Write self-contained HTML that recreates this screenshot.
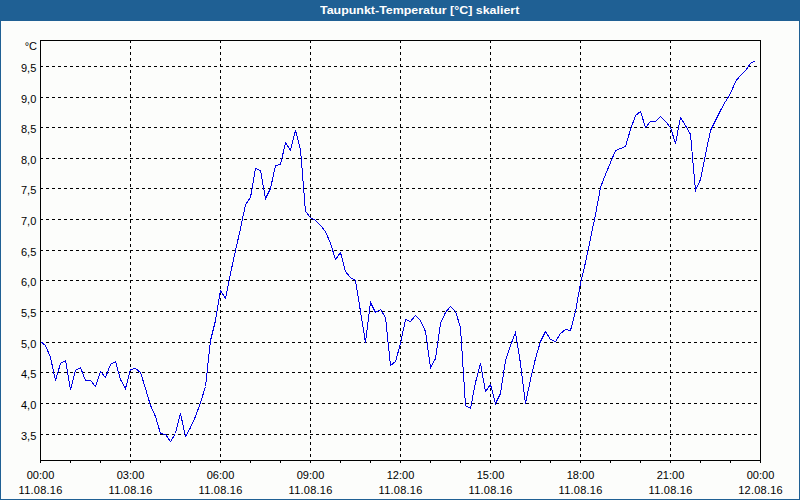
<!DOCTYPE html>
<html><head><meta charset="utf-8"><style>
html,body{margin:0;padding:0;}
body{width:800px;height:500px;overflow:hidden;background:#1f6094;position:relative;}
#panel{position:absolute;left:1px;top:21px;width:798px;height:478px;background:#fcfdfb;}
#title{position:absolute;left:0;top:0;width:800px;height:21px;color:#fff;font:bold 11px "Liberation Sans",sans-serif;}
#title span{position:absolute;left:320px;top:4px;white-space:nowrap;transform:scaleX(1.13);transform-origin:0 0;}
svg{position:absolute;left:0;top:0;}
text{font-family:"Liberation Sans",sans-serif;font-size:11px;fill:#000;}
</style></head><body>
<div id="panel"></div>
<div id="title"><span>Taupunkt-Temperatur [°C] skaliert</span></div>
<svg width="800" height="500" viewBox="0 0 800 500">
<path d="M40 66h3v1h-3zM46 66h3v1h-3zM52 66h3v1h-3zM58 66h3v1h-3zM64 66h3v1h-3zM70 66h3v1h-3zM76 66h3v1h-3zM82 66h3v1h-3zM88 66h3v1h-3zM94 66h3v1h-3zM100 66h3v1h-3zM106 66h3v1h-3zM112 66h3v1h-3zM118 66h3v1h-3zM124 66h3v1h-3zM130 66h3v1h-3zM136 66h3v1h-3zM142 66h3v1h-3zM148 66h3v1h-3zM154 66h3v1h-3zM160 66h3v1h-3zM166 66h3v1h-3zM172 66h3v1h-3zM178 66h3v1h-3zM184 66h3v1h-3zM190 66h3v1h-3zM196 66h3v1h-3zM202 66h3v1h-3zM208 66h3v1h-3zM214 66h3v1h-3zM220 66h3v1h-3zM226 66h3v1h-3zM232 66h3v1h-3zM238 66h3v1h-3zM244 66h3v1h-3zM250 66h3v1h-3zM256 66h3v1h-3zM262 66h3v1h-3zM268 66h3v1h-3zM274 66h3v1h-3zM280 66h3v1h-3zM286 66h3v1h-3zM292 66h3v1h-3zM298 66h3v1h-3zM304 66h3v1h-3zM310 66h3v1h-3zM316 66h3v1h-3zM322 66h3v1h-3zM328 66h3v1h-3zM334 66h3v1h-3zM340 66h3v1h-3zM346 66h3v1h-3zM352 66h3v1h-3zM358 66h3v1h-3zM364 66h3v1h-3zM370 66h3v1h-3zM376 66h3v1h-3zM382 66h3v1h-3zM388 66h3v1h-3zM394 66h3v1h-3zM400 66h3v1h-3zM406 66h3v1h-3zM412 66h3v1h-3zM418 66h3v1h-3zM424 66h3v1h-3zM430 66h3v1h-3zM436 66h3v1h-3zM442 66h3v1h-3zM448 66h3v1h-3zM454 66h3v1h-3zM460 66h3v1h-3zM466 66h3v1h-3zM472 66h3v1h-3zM478 66h3v1h-3zM484 66h3v1h-3zM490 66h3v1h-3zM496 66h3v1h-3zM502 66h3v1h-3zM508 66h3v1h-3zM514 66h3v1h-3zM520 66h3v1h-3zM526 66h3v1h-3zM532 66h3v1h-3zM538 66h3v1h-3zM544 66h3v1h-3zM550 66h3v1h-3zM556 66h3v1h-3zM562 66h3v1h-3zM568 66h3v1h-3zM574 66h3v1h-3zM580 66h3v1h-3zM586 66h3v1h-3zM592 66h3v1h-3zM598 66h3v1h-3zM604 66h3v1h-3zM610 66h3v1h-3zM616 66h3v1h-3zM622 66h3v1h-3zM628 66h3v1h-3zM634 66h3v1h-3zM640 66h3v1h-3zM646 66h3v1h-3zM652 66h3v1h-3zM658 66h3v1h-3zM664 66h3v1h-3zM670 66h3v1h-3zM676 66h3v1h-3zM682 66h3v1h-3zM688 66h3v1h-3zM694 66h3v1h-3zM700 66h3v1h-3zM706 66h3v1h-3zM712 66h3v1h-3zM718 66h3v1h-3zM724 66h3v1h-3zM730 66h3v1h-3zM736 66h3v1h-3zM742 66h3v1h-3zM748 66h3v1h-3zM754 66h3v1h-3zM40 97h3v1h-3zM46 97h3v1h-3zM52 97h3v1h-3zM58 97h3v1h-3zM64 97h3v1h-3zM70 97h3v1h-3zM76 97h3v1h-3zM82 97h3v1h-3zM88 97h3v1h-3zM94 97h3v1h-3zM100 97h3v1h-3zM106 97h3v1h-3zM112 97h3v1h-3zM118 97h3v1h-3zM124 97h3v1h-3zM130 97h3v1h-3zM136 97h3v1h-3zM142 97h3v1h-3zM148 97h3v1h-3zM154 97h3v1h-3zM160 97h3v1h-3zM166 97h3v1h-3zM172 97h3v1h-3zM178 97h3v1h-3zM184 97h3v1h-3zM190 97h3v1h-3zM196 97h3v1h-3zM202 97h3v1h-3zM208 97h3v1h-3zM214 97h3v1h-3zM220 97h3v1h-3zM226 97h3v1h-3zM232 97h3v1h-3zM238 97h3v1h-3zM244 97h3v1h-3zM250 97h3v1h-3zM256 97h3v1h-3zM262 97h3v1h-3zM268 97h3v1h-3zM274 97h3v1h-3zM280 97h3v1h-3zM286 97h3v1h-3zM292 97h3v1h-3zM298 97h3v1h-3zM304 97h3v1h-3zM310 97h3v1h-3zM316 97h3v1h-3zM322 97h3v1h-3zM328 97h3v1h-3zM334 97h3v1h-3zM340 97h3v1h-3zM346 97h3v1h-3zM352 97h3v1h-3zM358 97h3v1h-3zM364 97h3v1h-3zM370 97h3v1h-3zM376 97h3v1h-3zM382 97h3v1h-3zM388 97h3v1h-3zM394 97h3v1h-3zM400 97h3v1h-3zM406 97h3v1h-3zM412 97h3v1h-3zM418 97h3v1h-3zM424 97h3v1h-3zM430 97h3v1h-3zM436 97h3v1h-3zM442 97h3v1h-3zM448 97h3v1h-3zM454 97h3v1h-3zM460 97h3v1h-3zM466 97h3v1h-3zM472 97h3v1h-3zM478 97h3v1h-3zM484 97h3v1h-3zM490 97h3v1h-3zM496 97h3v1h-3zM502 97h3v1h-3zM508 97h3v1h-3zM514 97h3v1h-3zM520 97h3v1h-3zM526 97h3v1h-3zM532 97h3v1h-3zM538 97h3v1h-3zM544 97h3v1h-3zM550 97h3v1h-3zM556 97h3v1h-3zM562 97h3v1h-3zM568 97h3v1h-3zM574 97h3v1h-3zM580 97h3v1h-3zM586 97h3v1h-3zM592 97h3v1h-3zM598 97h3v1h-3zM604 97h3v1h-3zM610 97h3v1h-3zM616 97h3v1h-3zM622 97h3v1h-3zM628 97h3v1h-3zM634 97h3v1h-3zM640 97h3v1h-3zM646 97h3v1h-3zM652 97h3v1h-3zM658 97h3v1h-3zM664 97h3v1h-3zM670 97h3v1h-3zM676 97h3v1h-3zM682 97h3v1h-3zM688 97h3v1h-3zM694 97h3v1h-3zM700 97h3v1h-3zM706 97h3v1h-3zM712 97h3v1h-3zM718 97h3v1h-3zM724 97h3v1h-3zM730 97h3v1h-3zM736 97h3v1h-3zM742 97h3v1h-3zM748 97h3v1h-3zM754 97h3v1h-3zM40 127h3v1h-3zM46 127h3v1h-3zM52 127h3v1h-3zM58 127h3v1h-3zM64 127h3v1h-3zM70 127h3v1h-3zM76 127h3v1h-3zM82 127h3v1h-3zM88 127h3v1h-3zM94 127h3v1h-3zM100 127h3v1h-3zM106 127h3v1h-3zM112 127h3v1h-3zM118 127h3v1h-3zM124 127h3v1h-3zM130 127h3v1h-3zM136 127h3v1h-3zM142 127h3v1h-3zM148 127h3v1h-3zM154 127h3v1h-3zM160 127h3v1h-3zM166 127h3v1h-3zM172 127h3v1h-3zM178 127h3v1h-3zM184 127h3v1h-3zM190 127h3v1h-3zM196 127h3v1h-3zM202 127h3v1h-3zM208 127h3v1h-3zM214 127h3v1h-3zM220 127h3v1h-3zM226 127h3v1h-3zM232 127h3v1h-3zM238 127h3v1h-3zM244 127h3v1h-3zM250 127h3v1h-3zM256 127h3v1h-3zM262 127h3v1h-3zM268 127h3v1h-3zM274 127h3v1h-3zM280 127h3v1h-3zM286 127h3v1h-3zM292 127h3v1h-3zM298 127h3v1h-3zM304 127h3v1h-3zM310 127h3v1h-3zM316 127h3v1h-3zM322 127h3v1h-3zM328 127h3v1h-3zM334 127h3v1h-3zM340 127h3v1h-3zM346 127h3v1h-3zM352 127h3v1h-3zM358 127h3v1h-3zM364 127h3v1h-3zM370 127h3v1h-3zM376 127h3v1h-3zM382 127h3v1h-3zM388 127h3v1h-3zM394 127h3v1h-3zM400 127h3v1h-3zM406 127h3v1h-3zM412 127h3v1h-3zM418 127h3v1h-3zM424 127h3v1h-3zM430 127h3v1h-3zM436 127h3v1h-3zM442 127h3v1h-3zM448 127h3v1h-3zM454 127h3v1h-3zM460 127h3v1h-3zM466 127h3v1h-3zM472 127h3v1h-3zM478 127h3v1h-3zM484 127h3v1h-3zM490 127h3v1h-3zM496 127h3v1h-3zM502 127h3v1h-3zM508 127h3v1h-3zM514 127h3v1h-3zM520 127h3v1h-3zM526 127h3v1h-3zM532 127h3v1h-3zM538 127h3v1h-3zM544 127h3v1h-3zM550 127h3v1h-3zM556 127h3v1h-3zM562 127h3v1h-3zM568 127h3v1h-3zM574 127h3v1h-3zM580 127h3v1h-3zM586 127h3v1h-3zM592 127h3v1h-3zM598 127h3v1h-3zM604 127h3v1h-3zM610 127h3v1h-3zM616 127h3v1h-3zM622 127h3v1h-3zM628 127h3v1h-3zM634 127h3v1h-3zM640 127h3v1h-3zM646 127h3v1h-3zM652 127h3v1h-3zM658 127h3v1h-3zM664 127h3v1h-3zM670 127h3v1h-3zM676 127h3v1h-3zM682 127h3v1h-3zM688 127h3v1h-3zM694 127h3v1h-3zM700 127h3v1h-3zM706 127h3v1h-3zM712 127h3v1h-3zM718 127h3v1h-3zM724 127h3v1h-3zM730 127h3v1h-3zM736 127h3v1h-3zM742 127h3v1h-3zM748 127h3v1h-3zM754 127h3v1h-3zM40 158h3v1h-3zM46 158h3v1h-3zM52 158h3v1h-3zM58 158h3v1h-3zM64 158h3v1h-3zM70 158h3v1h-3zM76 158h3v1h-3zM82 158h3v1h-3zM88 158h3v1h-3zM94 158h3v1h-3zM100 158h3v1h-3zM106 158h3v1h-3zM112 158h3v1h-3zM118 158h3v1h-3zM124 158h3v1h-3zM130 158h3v1h-3zM136 158h3v1h-3zM142 158h3v1h-3zM148 158h3v1h-3zM154 158h3v1h-3zM160 158h3v1h-3zM166 158h3v1h-3zM172 158h3v1h-3zM178 158h3v1h-3zM184 158h3v1h-3zM190 158h3v1h-3zM196 158h3v1h-3zM202 158h3v1h-3zM208 158h3v1h-3zM214 158h3v1h-3zM220 158h3v1h-3zM226 158h3v1h-3zM232 158h3v1h-3zM238 158h3v1h-3zM244 158h3v1h-3zM250 158h3v1h-3zM256 158h3v1h-3zM262 158h3v1h-3zM268 158h3v1h-3zM274 158h3v1h-3zM280 158h3v1h-3zM286 158h3v1h-3zM292 158h3v1h-3zM298 158h3v1h-3zM304 158h3v1h-3zM310 158h3v1h-3zM316 158h3v1h-3zM322 158h3v1h-3zM328 158h3v1h-3zM334 158h3v1h-3zM340 158h3v1h-3zM346 158h3v1h-3zM352 158h3v1h-3zM358 158h3v1h-3zM364 158h3v1h-3zM370 158h3v1h-3zM376 158h3v1h-3zM382 158h3v1h-3zM388 158h3v1h-3zM394 158h3v1h-3zM400 158h3v1h-3zM406 158h3v1h-3zM412 158h3v1h-3zM418 158h3v1h-3zM424 158h3v1h-3zM430 158h3v1h-3zM436 158h3v1h-3zM442 158h3v1h-3zM448 158h3v1h-3zM454 158h3v1h-3zM460 158h3v1h-3zM466 158h3v1h-3zM472 158h3v1h-3zM478 158h3v1h-3zM484 158h3v1h-3zM490 158h3v1h-3zM496 158h3v1h-3zM502 158h3v1h-3zM508 158h3v1h-3zM514 158h3v1h-3zM520 158h3v1h-3zM526 158h3v1h-3zM532 158h3v1h-3zM538 158h3v1h-3zM544 158h3v1h-3zM550 158h3v1h-3zM556 158h3v1h-3zM562 158h3v1h-3zM568 158h3v1h-3zM574 158h3v1h-3zM580 158h3v1h-3zM586 158h3v1h-3zM592 158h3v1h-3zM598 158h3v1h-3zM604 158h3v1h-3zM610 158h3v1h-3zM616 158h3v1h-3zM622 158h3v1h-3zM628 158h3v1h-3zM634 158h3v1h-3zM640 158h3v1h-3zM646 158h3v1h-3zM652 158h3v1h-3zM658 158h3v1h-3zM664 158h3v1h-3zM670 158h3v1h-3zM676 158h3v1h-3zM682 158h3v1h-3zM688 158h3v1h-3zM694 158h3v1h-3zM700 158h3v1h-3zM706 158h3v1h-3zM712 158h3v1h-3zM718 158h3v1h-3zM724 158h3v1h-3zM730 158h3v1h-3zM736 158h3v1h-3zM742 158h3v1h-3zM748 158h3v1h-3zM754 158h3v1h-3zM40 188h3v1h-3zM46 188h3v1h-3zM52 188h3v1h-3zM58 188h3v1h-3zM64 188h3v1h-3zM70 188h3v1h-3zM76 188h3v1h-3zM82 188h3v1h-3zM88 188h3v1h-3zM94 188h3v1h-3zM100 188h3v1h-3zM106 188h3v1h-3zM112 188h3v1h-3zM118 188h3v1h-3zM124 188h3v1h-3zM130 188h3v1h-3zM136 188h3v1h-3zM142 188h3v1h-3zM148 188h3v1h-3zM154 188h3v1h-3zM160 188h3v1h-3zM166 188h3v1h-3zM172 188h3v1h-3zM178 188h3v1h-3zM184 188h3v1h-3zM190 188h3v1h-3zM196 188h3v1h-3zM202 188h3v1h-3zM208 188h3v1h-3zM214 188h3v1h-3zM220 188h3v1h-3zM226 188h3v1h-3zM232 188h3v1h-3zM238 188h3v1h-3zM244 188h3v1h-3zM250 188h3v1h-3zM256 188h3v1h-3zM262 188h3v1h-3zM268 188h3v1h-3zM274 188h3v1h-3zM280 188h3v1h-3zM286 188h3v1h-3zM292 188h3v1h-3zM298 188h3v1h-3zM304 188h3v1h-3zM310 188h3v1h-3zM316 188h3v1h-3zM322 188h3v1h-3zM328 188h3v1h-3zM334 188h3v1h-3zM340 188h3v1h-3zM346 188h3v1h-3zM352 188h3v1h-3zM358 188h3v1h-3zM364 188h3v1h-3zM370 188h3v1h-3zM376 188h3v1h-3zM382 188h3v1h-3zM388 188h3v1h-3zM394 188h3v1h-3zM400 188h3v1h-3zM406 188h3v1h-3zM412 188h3v1h-3zM418 188h3v1h-3zM424 188h3v1h-3zM430 188h3v1h-3zM436 188h3v1h-3zM442 188h3v1h-3zM448 188h3v1h-3zM454 188h3v1h-3zM460 188h3v1h-3zM466 188h3v1h-3zM472 188h3v1h-3zM478 188h3v1h-3zM484 188h3v1h-3zM490 188h3v1h-3zM496 188h3v1h-3zM502 188h3v1h-3zM508 188h3v1h-3zM514 188h3v1h-3zM520 188h3v1h-3zM526 188h3v1h-3zM532 188h3v1h-3zM538 188h3v1h-3zM544 188h3v1h-3zM550 188h3v1h-3zM556 188h3v1h-3zM562 188h3v1h-3zM568 188h3v1h-3zM574 188h3v1h-3zM580 188h3v1h-3zM586 188h3v1h-3zM592 188h3v1h-3zM598 188h3v1h-3zM604 188h3v1h-3zM610 188h3v1h-3zM616 188h3v1h-3zM622 188h3v1h-3zM628 188h3v1h-3zM634 188h3v1h-3zM640 188h3v1h-3zM646 188h3v1h-3zM652 188h3v1h-3zM658 188h3v1h-3zM664 188h3v1h-3zM670 188h3v1h-3zM676 188h3v1h-3zM682 188h3v1h-3zM688 188h3v1h-3zM694 188h3v1h-3zM700 188h3v1h-3zM706 188h3v1h-3zM712 188h3v1h-3zM718 188h3v1h-3zM724 188h3v1h-3zM730 188h3v1h-3zM736 188h3v1h-3zM742 188h3v1h-3zM748 188h3v1h-3zM754 188h3v1h-3zM40 219h3v1h-3zM46 219h3v1h-3zM52 219h3v1h-3zM58 219h3v1h-3zM64 219h3v1h-3zM70 219h3v1h-3zM76 219h3v1h-3zM82 219h3v1h-3zM88 219h3v1h-3zM94 219h3v1h-3zM100 219h3v1h-3zM106 219h3v1h-3zM112 219h3v1h-3zM118 219h3v1h-3zM124 219h3v1h-3zM130 219h3v1h-3zM136 219h3v1h-3zM142 219h3v1h-3zM148 219h3v1h-3zM154 219h3v1h-3zM160 219h3v1h-3zM166 219h3v1h-3zM172 219h3v1h-3zM178 219h3v1h-3zM184 219h3v1h-3zM190 219h3v1h-3zM196 219h3v1h-3zM202 219h3v1h-3zM208 219h3v1h-3zM214 219h3v1h-3zM220 219h3v1h-3zM226 219h3v1h-3zM232 219h3v1h-3zM238 219h3v1h-3zM244 219h3v1h-3zM250 219h3v1h-3zM256 219h3v1h-3zM262 219h3v1h-3zM268 219h3v1h-3zM274 219h3v1h-3zM280 219h3v1h-3zM286 219h3v1h-3zM292 219h3v1h-3zM298 219h3v1h-3zM304 219h3v1h-3zM310 219h3v1h-3zM316 219h3v1h-3zM322 219h3v1h-3zM328 219h3v1h-3zM334 219h3v1h-3zM340 219h3v1h-3zM346 219h3v1h-3zM352 219h3v1h-3zM358 219h3v1h-3zM364 219h3v1h-3zM370 219h3v1h-3zM376 219h3v1h-3zM382 219h3v1h-3zM388 219h3v1h-3zM394 219h3v1h-3zM400 219h3v1h-3zM406 219h3v1h-3zM412 219h3v1h-3zM418 219h3v1h-3zM424 219h3v1h-3zM430 219h3v1h-3zM436 219h3v1h-3zM442 219h3v1h-3zM448 219h3v1h-3zM454 219h3v1h-3zM460 219h3v1h-3zM466 219h3v1h-3zM472 219h3v1h-3zM478 219h3v1h-3zM484 219h3v1h-3zM490 219h3v1h-3zM496 219h3v1h-3zM502 219h3v1h-3zM508 219h3v1h-3zM514 219h3v1h-3zM520 219h3v1h-3zM526 219h3v1h-3zM532 219h3v1h-3zM538 219h3v1h-3zM544 219h3v1h-3zM550 219h3v1h-3zM556 219h3v1h-3zM562 219h3v1h-3zM568 219h3v1h-3zM574 219h3v1h-3zM580 219h3v1h-3zM586 219h3v1h-3zM592 219h3v1h-3zM598 219h3v1h-3zM604 219h3v1h-3zM610 219h3v1h-3zM616 219h3v1h-3zM622 219h3v1h-3zM628 219h3v1h-3zM634 219h3v1h-3zM640 219h3v1h-3zM646 219h3v1h-3zM652 219h3v1h-3zM658 219h3v1h-3zM664 219h3v1h-3zM670 219h3v1h-3zM676 219h3v1h-3zM682 219h3v1h-3zM688 219h3v1h-3zM694 219h3v1h-3zM700 219h3v1h-3zM706 219h3v1h-3zM712 219h3v1h-3zM718 219h3v1h-3zM724 219h3v1h-3zM730 219h3v1h-3zM736 219h3v1h-3zM742 219h3v1h-3zM748 219h3v1h-3zM754 219h3v1h-3zM40 250h3v1h-3zM46 250h3v1h-3zM52 250h3v1h-3zM58 250h3v1h-3zM64 250h3v1h-3zM70 250h3v1h-3zM76 250h3v1h-3zM82 250h3v1h-3zM88 250h3v1h-3zM94 250h3v1h-3zM100 250h3v1h-3zM106 250h3v1h-3zM112 250h3v1h-3zM118 250h3v1h-3zM124 250h3v1h-3zM130 250h3v1h-3zM136 250h3v1h-3zM142 250h3v1h-3zM148 250h3v1h-3zM154 250h3v1h-3zM160 250h3v1h-3zM166 250h3v1h-3zM172 250h3v1h-3zM178 250h3v1h-3zM184 250h3v1h-3zM190 250h3v1h-3zM196 250h3v1h-3zM202 250h3v1h-3zM208 250h3v1h-3zM214 250h3v1h-3zM220 250h3v1h-3zM226 250h3v1h-3zM232 250h3v1h-3zM238 250h3v1h-3zM244 250h3v1h-3zM250 250h3v1h-3zM256 250h3v1h-3zM262 250h3v1h-3zM268 250h3v1h-3zM274 250h3v1h-3zM280 250h3v1h-3zM286 250h3v1h-3zM292 250h3v1h-3zM298 250h3v1h-3zM304 250h3v1h-3zM310 250h3v1h-3zM316 250h3v1h-3zM322 250h3v1h-3zM328 250h3v1h-3zM334 250h3v1h-3zM340 250h3v1h-3zM346 250h3v1h-3zM352 250h3v1h-3zM358 250h3v1h-3zM364 250h3v1h-3zM370 250h3v1h-3zM376 250h3v1h-3zM382 250h3v1h-3zM388 250h3v1h-3zM394 250h3v1h-3zM400 250h3v1h-3zM406 250h3v1h-3zM412 250h3v1h-3zM418 250h3v1h-3zM424 250h3v1h-3zM430 250h3v1h-3zM436 250h3v1h-3zM442 250h3v1h-3zM448 250h3v1h-3zM454 250h3v1h-3zM460 250h3v1h-3zM466 250h3v1h-3zM472 250h3v1h-3zM478 250h3v1h-3zM484 250h3v1h-3zM490 250h3v1h-3zM496 250h3v1h-3zM502 250h3v1h-3zM508 250h3v1h-3zM514 250h3v1h-3zM520 250h3v1h-3zM526 250h3v1h-3zM532 250h3v1h-3zM538 250h3v1h-3zM544 250h3v1h-3zM550 250h3v1h-3zM556 250h3v1h-3zM562 250h3v1h-3zM568 250h3v1h-3zM574 250h3v1h-3zM580 250h3v1h-3zM586 250h3v1h-3zM592 250h3v1h-3zM598 250h3v1h-3zM604 250h3v1h-3zM610 250h3v1h-3zM616 250h3v1h-3zM622 250h3v1h-3zM628 250h3v1h-3zM634 250h3v1h-3zM640 250h3v1h-3zM646 250h3v1h-3zM652 250h3v1h-3zM658 250h3v1h-3zM664 250h3v1h-3zM670 250h3v1h-3zM676 250h3v1h-3zM682 250h3v1h-3zM688 250h3v1h-3zM694 250h3v1h-3zM700 250h3v1h-3zM706 250h3v1h-3zM712 250h3v1h-3zM718 250h3v1h-3zM724 250h3v1h-3zM730 250h3v1h-3zM736 250h3v1h-3zM742 250h3v1h-3zM748 250h3v1h-3zM754 250h3v1h-3zM40 280h3v1h-3zM46 280h3v1h-3zM52 280h3v1h-3zM58 280h3v1h-3zM64 280h3v1h-3zM70 280h3v1h-3zM76 280h3v1h-3zM82 280h3v1h-3zM88 280h3v1h-3zM94 280h3v1h-3zM100 280h3v1h-3zM106 280h3v1h-3zM112 280h3v1h-3zM118 280h3v1h-3zM124 280h3v1h-3zM130 280h3v1h-3zM136 280h3v1h-3zM142 280h3v1h-3zM148 280h3v1h-3zM154 280h3v1h-3zM160 280h3v1h-3zM166 280h3v1h-3zM172 280h3v1h-3zM178 280h3v1h-3zM184 280h3v1h-3zM190 280h3v1h-3zM196 280h3v1h-3zM202 280h3v1h-3zM208 280h3v1h-3zM214 280h3v1h-3zM220 280h3v1h-3zM226 280h3v1h-3zM232 280h3v1h-3zM238 280h3v1h-3zM244 280h3v1h-3zM250 280h3v1h-3zM256 280h3v1h-3zM262 280h3v1h-3zM268 280h3v1h-3zM274 280h3v1h-3zM280 280h3v1h-3zM286 280h3v1h-3zM292 280h3v1h-3zM298 280h3v1h-3zM304 280h3v1h-3zM310 280h3v1h-3zM316 280h3v1h-3zM322 280h3v1h-3zM328 280h3v1h-3zM334 280h3v1h-3zM340 280h3v1h-3zM346 280h3v1h-3zM352 280h3v1h-3zM358 280h3v1h-3zM364 280h3v1h-3zM370 280h3v1h-3zM376 280h3v1h-3zM382 280h3v1h-3zM388 280h3v1h-3zM394 280h3v1h-3zM400 280h3v1h-3zM406 280h3v1h-3zM412 280h3v1h-3zM418 280h3v1h-3zM424 280h3v1h-3zM430 280h3v1h-3zM436 280h3v1h-3zM442 280h3v1h-3zM448 280h3v1h-3zM454 280h3v1h-3zM460 280h3v1h-3zM466 280h3v1h-3zM472 280h3v1h-3zM478 280h3v1h-3zM484 280h3v1h-3zM490 280h3v1h-3zM496 280h3v1h-3zM502 280h3v1h-3zM508 280h3v1h-3zM514 280h3v1h-3zM520 280h3v1h-3zM526 280h3v1h-3zM532 280h3v1h-3zM538 280h3v1h-3zM544 280h3v1h-3zM550 280h3v1h-3zM556 280h3v1h-3zM562 280h3v1h-3zM568 280h3v1h-3zM574 280h3v1h-3zM580 280h3v1h-3zM586 280h3v1h-3zM592 280h3v1h-3zM598 280h3v1h-3zM604 280h3v1h-3zM610 280h3v1h-3zM616 280h3v1h-3zM622 280h3v1h-3zM628 280h3v1h-3zM634 280h3v1h-3zM640 280h3v1h-3zM646 280h3v1h-3zM652 280h3v1h-3zM658 280h3v1h-3zM664 280h3v1h-3zM670 280h3v1h-3zM676 280h3v1h-3zM682 280h3v1h-3zM688 280h3v1h-3zM694 280h3v1h-3zM700 280h3v1h-3zM706 280h3v1h-3zM712 280h3v1h-3zM718 280h3v1h-3zM724 280h3v1h-3zM730 280h3v1h-3zM736 280h3v1h-3zM742 280h3v1h-3zM748 280h3v1h-3zM754 280h3v1h-3zM40 311h3v1h-3zM46 311h3v1h-3zM52 311h3v1h-3zM58 311h3v1h-3zM64 311h3v1h-3zM70 311h3v1h-3zM76 311h3v1h-3zM82 311h3v1h-3zM88 311h3v1h-3zM94 311h3v1h-3zM100 311h3v1h-3zM106 311h3v1h-3zM112 311h3v1h-3zM118 311h3v1h-3zM124 311h3v1h-3zM130 311h3v1h-3zM136 311h3v1h-3zM142 311h3v1h-3zM148 311h3v1h-3zM154 311h3v1h-3zM160 311h3v1h-3zM166 311h3v1h-3zM172 311h3v1h-3zM178 311h3v1h-3zM184 311h3v1h-3zM190 311h3v1h-3zM196 311h3v1h-3zM202 311h3v1h-3zM208 311h3v1h-3zM214 311h3v1h-3zM220 311h3v1h-3zM226 311h3v1h-3zM232 311h3v1h-3zM238 311h3v1h-3zM244 311h3v1h-3zM250 311h3v1h-3zM256 311h3v1h-3zM262 311h3v1h-3zM268 311h3v1h-3zM274 311h3v1h-3zM280 311h3v1h-3zM286 311h3v1h-3zM292 311h3v1h-3zM298 311h3v1h-3zM304 311h3v1h-3zM310 311h3v1h-3zM316 311h3v1h-3zM322 311h3v1h-3zM328 311h3v1h-3zM334 311h3v1h-3zM340 311h3v1h-3zM346 311h3v1h-3zM352 311h3v1h-3zM358 311h3v1h-3zM364 311h3v1h-3zM370 311h3v1h-3zM376 311h3v1h-3zM382 311h3v1h-3zM388 311h3v1h-3zM394 311h3v1h-3zM400 311h3v1h-3zM406 311h3v1h-3zM412 311h3v1h-3zM418 311h3v1h-3zM424 311h3v1h-3zM430 311h3v1h-3zM436 311h3v1h-3zM442 311h3v1h-3zM448 311h3v1h-3zM454 311h3v1h-3zM460 311h3v1h-3zM466 311h3v1h-3zM472 311h3v1h-3zM478 311h3v1h-3zM484 311h3v1h-3zM490 311h3v1h-3zM496 311h3v1h-3zM502 311h3v1h-3zM508 311h3v1h-3zM514 311h3v1h-3zM520 311h3v1h-3zM526 311h3v1h-3zM532 311h3v1h-3zM538 311h3v1h-3zM544 311h3v1h-3zM550 311h3v1h-3zM556 311h3v1h-3zM562 311h3v1h-3zM568 311h3v1h-3zM574 311h3v1h-3zM580 311h3v1h-3zM586 311h3v1h-3zM592 311h3v1h-3zM598 311h3v1h-3zM604 311h3v1h-3zM610 311h3v1h-3zM616 311h3v1h-3zM622 311h3v1h-3zM628 311h3v1h-3zM634 311h3v1h-3zM640 311h3v1h-3zM646 311h3v1h-3zM652 311h3v1h-3zM658 311h3v1h-3zM664 311h3v1h-3zM670 311h3v1h-3zM676 311h3v1h-3zM682 311h3v1h-3zM688 311h3v1h-3zM694 311h3v1h-3zM700 311h3v1h-3zM706 311h3v1h-3zM712 311h3v1h-3zM718 311h3v1h-3zM724 311h3v1h-3zM730 311h3v1h-3zM736 311h3v1h-3zM742 311h3v1h-3zM748 311h3v1h-3zM754 311h3v1h-3zM40 342h3v1h-3zM46 342h3v1h-3zM52 342h3v1h-3zM58 342h3v1h-3zM64 342h3v1h-3zM70 342h3v1h-3zM76 342h3v1h-3zM82 342h3v1h-3zM88 342h3v1h-3zM94 342h3v1h-3zM100 342h3v1h-3zM106 342h3v1h-3zM112 342h3v1h-3zM118 342h3v1h-3zM124 342h3v1h-3zM130 342h3v1h-3zM136 342h3v1h-3zM142 342h3v1h-3zM148 342h3v1h-3zM154 342h3v1h-3zM160 342h3v1h-3zM166 342h3v1h-3zM172 342h3v1h-3zM178 342h3v1h-3zM184 342h3v1h-3zM190 342h3v1h-3zM196 342h3v1h-3zM202 342h3v1h-3zM208 342h3v1h-3zM214 342h3v1h-3zM220 342h3v1h-3zM226 342h3v1h-3zM232 342h3v1h-3zM238 342h3v1h-3zM244 342h3v1h-3zM250 342h3v1h-3zM256 342h3v1h-3zM262 342h3v1h-3zM268 342h3v1h-3zM274 342h3v1h-3zM280 342h3v1h-3zM286 342h3v1h-3zM292 342h3v1h-3zM298 342h3v1h-3zM304 342h3v1h-3zM310 342h3v1h-3zM316 342h3v1h-3zM322 342h3v1h-3zM328 342h3v1h-3zM334 342h3v1h-3zM340 342h3v1h-3zM346 342h3v1h-3zM352 342h3v1h-3zM358 342h3v1h-3zM364 342h3v1h-3zM370 342h3v1h-3zM376 342h3v1h-3zM382 342h3v1h-3zM388 342h3v1h-3zM394 342h3v1h-3zM400 342h3v1h-3zM406 342h3v1h-3zM412 342h3v1h-3zM418 342h3v1h-3zM424 342h3v1h-3zM430 342h3v1h-3zM436 342h3v1h-3zM442 342h3v1h-3zM448 342h3v1h-3zM454 342h3v1h-3zM460 342h3v1h-3zM466 342h3v1h-3zM472 342h3v1h-3zM478 342h3v1h-3zM484 342h3v1h-3zM490 342h3v1h-3zM496 342h3v1h-3zM502 342h3v1h-3zM508 342h3v1h-3zM514 342h3v1h-3zM520 342h3v1h-3zM526 342h3v1h-3zM532 342h3v1h-3zM538 342h3v1h-3zM544 342h3v1h-3zM550 342h3v1h-3zM556 342h3v1h-3zM562 342h3v1h-3zM568 342h3v1h-3zM574 342h3v1h-3zM580 342h3v1h-3zM586 342h3v1h-3zM592 342h3v1h-3zM598 342h3v1h-3zM604 342h3v1h-3zM610 342h3v1h-3zM616 342h3v1h-3zM622 342h3v1h-3zM628 342h3v1h-3zM634 342h3v1h-3zM640 342h3v1h-3zM646 342h3v1h-3zM652 342h3v1h-3zM658 342h3v1h-3zM664 342h3v1h-3zM670 342h3v1h-3zM676 342h3v1h-3zM682 342h3v1h-3zM688 342h3v1h-3zM694 342h3v1h-3zM700 342h3v1h-3zM706 342h3v1h-3zM712 342h3v1h-3zM718 342h3v1h-3zM724 342h3v1h-3zM730 342h3v1h-3zM736 342h3v1h-3zM742 342h3v1h-3zM748 342h3v1h-3zM754 342h3v1h-3zM40 372h3v1h-3zM46 372h3v1h-3zM52 372h3v1h-3zM58 372h3v1h-3zM64 372h3v1h-3zM70 372h3v1h-3zM76 372h3v1h-3zM82 372h3v1h-3zM88 372h3v1h-3zM94 372h3v1h-3zM100 372h3v1h-3zM106 372h3v1h-3zM112 372h3v1h-3zM118 372h3v1h-3zM124 372h3v1h-3zM130 372h3v1h-3zM136 372h3v1h-3zM142 372h3v1h-3zM148 372h3v1h-3zM154 372h3v1h-3zM160 372h3v1h-3zM166 372h3v1h-3zM172 372h3v1h-3zM178 372h3v1h-3zM184 372h3v1h-3zM190 372h3v1h-3zM196 372h3v1h-3zM202 372h3v1h-3zM208 372h3v1h-3zM214 372h3v1h-3zM220 372h3v1h-3zM226 372h3v1h-3zM232 372h3v1h-3zM238 372h3v1h-3zM244 372h3v1h-3zM250 372h3v1h-3zM256 372h3v1h-3zM262 372h3v1h-3zM268 372h3v1h-3zM274 372h3v1h-3zM280 372h3v1h-3zM286 372h3v1h-3zM292 372h3v1h-3zM298 372h3v1h-3zM304 372h3v1h-3zM310 372h3v1h-3zM316 372h3v1h-3zM322 372h3v1h-3zM328 372h3v1h-3zM334 372h3v1h-3zM340 372h3v1h-3zM346 372h3v1h-3zM352 372h3v1h-3zM358 372h3v1h-3zM364 372h3v1h-3zM370 372h3v1h-3zM376 372h3v1h-3zM382 372h3v1h-3zM388 372h3v1h-3zM394 372h3v1h-3zM400 372h3v1h-3zM406 372h3v1h-3zM412 372h3v1h-3zM418 372h3v1h-3zM424 372h3v1h-3zM430 372h3v1h-3zM436 372h3v1h-3zM442 372h3v1h-3zM448 372h3v1h-3zM454 372h3v1h-3zM460 372h3v1h-3zM466 372h3v1h-3zM472 372h3v1h-3zM478 372h3v1h-3zM484 372h3v1h-3zM490 372h3v1h-3zM496 372h3v1h-3zM502 372h3v1h-3zM508 372h3v1h-3zM514 372h3v1h-3zM520 372h3v1h-3zM526 372h3v1h-3zM532 372h3v1h-3zM538 372h3v1h-3zM544 372h3v1h-3zM550 372h3v1h-3zM556 372h3v1h-3zM562 372h3v1h-3zM568 372h3v1h-3zM574 372h3v1h-3zM580 372h3v1h-3zM586 372h3v1h-3zM592 372h3v1h-3zM598 372h3v1h-3zM604 372h3v1h-3zM610 372h3v1h-3zM616 372h3v1h-3zM622 372h3v1h-3zM628 372h3v1h-3zM634 372h3v1h-3zM640 372h3v1h-3zM646 372h3v1h-3zM652 372h3v1h-3zM658 372h3v1h-3zM664 372h3v1h-3zM670 372h3v1h-3zM676 372h3v1h-3zM682 372h3v1h-3zM688 372h3v1h-3zM694 372h3v1h-3zM700 372h3v1h-3zM706 372h3v1h-3zM712 372h3v1h-3zM718 372h3v1h-3zM724 372h3v1h-3zM730 372h3v1h-3zM736 372h3v1h-3zM742 372h3v1h-3zM748 372h3v1h-3zM754 372h3v1h-3zM40 403h3v1h-3zM46 403h3v1h-3zM52 403h3v1h-3zM58 403h3v1h-3zM64 403h3v1h-3zM70 403h3v1h-3zM76 403h3v1h-3zM82 403h3v1h-3zM88 403h3v1h-3zM94 403h3v1h-3zM100 403h3v1h-3zM106 403h3v1h-3zM112 403h3v1h-3zM118 403h3v1h-3zM124 403h3v1h-3zM130 403h3v1h-3zM136 403h3v1h-3zM142 403h3v1h-3zM148 403h3v1h-3zM154 403h3v1h-3zM160 403h3v1h-3zM166 403h3v1h-3zM172 403h3v1h-3zM178 403h3v1h-3zM184 403h3v1h-3zM190 403h3v1h-3zM196 403h3v1h-3zM202 403h3v1h-3zM208 403h3v1h-3zM214 403h3v1h-3zM220 403h3v1h-3zM226 403h3v1h-3zM232 403h3v1h-3zM238 403h3v1h-3zM244 403h3v1h-3zM250 403h3v1h-3zM256 403h3v1h-3zM262 403h3v1h-3zM268 403h3v1h-3zM274 403h3v1h-3zM280 403h3v1h-3zM286 403h3v1h-3zM292 403h3v1h-3zM298 403h3v1h-3zM304 403h3v1h-3zM310 403h3v1h-3zM316 403h3v1h-3zM322 403h3v1h-3zM328 403h3v1h-3zM334 403h3v1h-3zM340 403h3v1h-3zM346 403h3v1h-3zM352 403h3v1h-3zM358 403h3v1h-3zM364 403h3v1h-3zM370 403h3v1h-3zM376 403h3v1h-3zM382 403h3v1h-3zM388 403h3v1h-3zM394 403h3v1h-3zM400 403h3v1h-3zM406 403h3v1h-3zM412 403h3v1h-3zM418 403h3v1h-3zM424 403h3v1h-3zM430 403h3v1h-3zM436 403h3v1h-3zM442 403h3v1h-3zM448 403h3v1h-3zM454 403h3v1h-3zM460 403h3v1h-3zM466 403h3v1h-3zM472 403h3v1h-3zM478 403h3v1h-3zM484 403h3v1h-3zM490 403h3v1h-3zM496 403h3v1h-3zM502 403h3v1h-3zM508 403h3v1h-3zM514 403h3v1h-3zM520 403h3v1h-3zM526 403h3v1h-3zM532 403h3v1h-3zM538 403h3v1h-3zM544 403h3v1h-3zM550 403h3v1h-3zM556 403h3v1h-3zM562 403h3v1h-3zM568 403h3v1h-3zM574 403h3v1h-3zM580 403h3v1h-3zM586 403h3v1h-3zM592 403h3v1h-3zM598 403h3v1h-3zM604 403h3v1h-3zM610 403h3v1h-3zM616 403h3v1h-3zM622 403h3v1h-3zM628 403h3v1h-3zM634 403h3v1h-3zM640 403h3v1h-3zM646 403h3v1h-3zM652 403h3v1h-3zM658 403h3v1h-3zM664 403h3v1h-3zM670 403h3v1h-3zM676 403h3v1h-3zM682 403h3v1h-3zM688 403h3v1h-3zM694 403h3v1h-3zM700 403h3v1h-3zM706 403h3v1h-3zM712 403h3v1h-3zM718 403h3v1h-3zM724 403h3v1h-3zM730 403h3v1h-3zM736 403h3v1h-3zM742 403h3v1h-3zM748 403h3v1h-3zM754 403h3v1h-3zM40 434h3v1h-3zM46 434h3v1h-3zM52 434h3v1h-3zM58 434h3v1h-3zM64 434h3v1h-3zM70 434h3v1h-3zM76 434h3v1h-3zM82 434h3v1h-3zM88 434h3v1h-3zM94 434h3v1h-3zM100 434h3v1h-3zM106 434h3v1h-3zM112 434h3v1h-3zM118 434h3v1h-3zM124 434h3v1h-3zM130 434h3v1h-3zM136 434h3v1h-3zM142 434h3v1h-3zM148 434h3v1h-3zM154 434h3v1h-3zM160 434h3v1h-3zM166 434h3v1h-3zM172 434h3v1h-3zM178 434h3v1h-3zM184 434h3v1h-3zM190 434h3v1h-3zM196 434h3v1h-3zM202 434h3v1h-3zM208 434h3v1h-3zM214 434h3v1h-3zM220 434h3v1h-3zM226 434h3v1h-3zM232 434h3v1h-3zM238 434h3v1h-3zM244 434h3v1h-3zM250 434h3v1h-3zM256 434h3v1h-3zM262 434h3v1h-3zM268 434h3v1h-3zM274 434h3v1h-3zM280 434h3v1h-3zM286 434h3v1h-3zM292 434h3v1h-3zM298 434h3v1h-3zM304 434h3v1h-3zM310 434h3v1h-3zM316 434h3v1h-3zM322 434h3v1h-3zM328 434h3v1h-3zM334 434h3v1h-3zM340 434h3v1h-3zM346 434h3v1h-3zM352 434h3v1h-3zM358 434h3v1h-3zM364 434h3v1h-3zM370 434h3v1h-3zM376 434h3v1h-3zM382 434h3v1h-3zM388 434h3v1h-3zM394 434h3v1h-3zM400 434h3v1h-3zM406 434h3v1h-3zM412 434h3v1h-3zM418 434h3v1h-3zM424 434h3v1h-3zM430 434h3v1h-3zM436 434h3v1h-3zM442 434h3v1h-3zM448 434h3v1h-3zM454 434h3v1h-3zM460 434h3v1h-3zM466 434h3v1h-3zM472 434h3v1h-3zM478 434h3v1h-3zM484 434h3v1h-3zM490 434h3v1h-3zM496 434h3v1h-3zM502 434h3v1h-3zM508 434h3v1h-3zM514 434h3v1h-3zM520 434h3v1h-3zM526 434h3v1h-3zM532 434h3v1h-3zM538 434h3v1h-3zM544 434h3v1h-3zM550 434h3v1h-3zM556 434h3v1h-3zM562 434h3v1h-3zM568 434h3v1h-3zM574 434h3v1h-3zM580 434h3v1h-3zM586 434h3v1h-3zM592 434h3v1h-3zM598 434h3v1h-3zM604 434h3v1h-3zM610 434h3v1h-3zM616 434h3v1h-3zM622 434h3v1h-3zM628 434h3v1h-3zM634 434h3v1h-3zM640 434h3v1h-3zM646 434h3v1h-3zM652 434h3v1h-3zM658 434h3v1h-3zM664 434h3v1h-3zM670 434h3v1h-3zM676 434h3v1h-3zM682 434h3v1h-3zM688 434h3v1h-3zM694 434h3v1h-3zM700 434h3v1h-3zM706 434h3v1h-3zM712 434h3v1h-3zM718 434h3v1h-3zM724 434h3v1h-3zM730 434h3v1h-3zM736 434h3v1h-3zM742 434h3v1h-3zM748 434h3v1h-3zM754 434h3v1h-3zM130 40h1v3h-1zM130 46h1v3h-1zM130 52h1v3h-1zM130 58h1v3h-1zM130 64h1v3h-1zM130 70h1v3h-1zM130 76h1v3h-1zM130 82h1v3h-1zM130 88h1v3h-1zM130 94h1v3h-1zM130 100h1v3h-1zM130 106h1v3h-1zM130 112h1v3h-1zM130 118h1v3h-1zM130 124h1v3h-1zM130 130h1v3h-1zM130 136h1v3h-1zM130 142h1v3h-1zM130 148h1v3h-1zM130 154h1v3h-1zM130 160h1v3h-1zM130 166h1v3h-1zM130 172h1v3h-1zM130 178h1v3h-1zM130 184h1v3h-1zM130 190h1v3h-1zM130 196h1v3h-1zM130 202h1v3h-1zM130 208h1v3h-1zM130 214h1v3h-1zM130 220h1v3h-1zM130 226h1v3h-1zM130 232h1v3h-1zM130 238h1v3h-1zM130 244h1v3h-1zM130 250h1v3h-1zM130 256h1v3h-1zM130 262h1v3h-1zM130 268h1v3h-1zM130 274h1v3h-1zM130 280h1v3h-1zM130 286h1v3h-1zM130 292h1v3h-1zM130 298h1v3h-1zM130 304h1v3h-1zM130 310h1v3h-1zM130 316h1v3h-1zM130 322h1v3h-1zM130 328h1v3h-1zM130 334h1v3h-1zM130 340h1v3h-1zM130 346h1v3h-1zM130 352h1v3h-1zM130 358h1v3h-1zM130 364h1v3h-1zM130 370h1v3h-1zM130 376h1v3h-1zM130 382h1v3h-1zM130 388h1v3h-1zM130 394h1v3h-1zM130 400h1v3h-1zM130 406h1v3h-1zM130 412h1v3h-1zM130 418h1v3h-1zM130 424h1v3h-1zM130 430h1v3h-1zM130 436h1v3h-1zM130 442h1v3h-1zM130 448h1v3h-1zM130 454h1v3h-1zM220 40h1v3h-1zM220 46h1v3h-1zM220 52h1v3h-1zM220 58h1v3h-1zM220 64h1v3h-1zM220 70h1v3h-1zM220 76h1v3h-1zM220 82h1v3h-1zM220 88h1v3h-1zM220 94h1v3h-1zM220 100h1v3h-1zM220 106h1v3h-1zM220 112h1v3h-1zM220 118h1v3h-1zM220 124h1v3h-1zM220 130h1v3h-1zM220 136h1v3h-1zM220 142h1v3h-1zM220 148h1v3h-1zM220 154h1v3h-1zM220 160h1v3h-1zM220 166h1v3h-1zM220 172h1v3h-1zM220 178h1v3h-1zM220 184h1v3h-1zM220 190h1v3h-1zM220 196h1v3h-1zM220 202h1v3h-1zM220 208h1v3h-1zM220 214h1v3h-1zM220 220h1v3h-1zM220 226h1v3h-1zM220 232h1v3h-1zM220 238h1v3h-1zM220 244h1v3h-1zM220 250h1v3h-1zM220 256h1v3h-1zM220 262h1v3h-1zM220 268h1v3h-1zM220 274h1v3h-1zM220 280h1v3h-1zM220 286h1v3h-1zM220 292h1v3h-1zM220 298h1v3h-1zM220 304h1v3h-1zM220 310h1v3h-1zM220 316h1v3h-1zM220 322h1v3h-1zM220 328h1v3h-1zM220 334h1v3h-1zM220 340h1v3h-1zM220 346h1v3h-1zM220 352h1v3h-1zM220 358h1v3h-1zM220 364h1v3h-1zM220 370h1v3h-1zM220 376h1v3h-1zM220 382h1v3h-1zM220 388h1v3h-1zM220 394h1v3h-1zM220 400h1v3h-1zM220 406h1v3h-1zM220 412h1v3h-1zM220 418h1v3h-1zM220 424h1v3h-1zM220 430h1v3h-1zM220 436h1v3h-1zM220 442h1v3h-1zM220 448h1v3h-1zM220 454h1v3h-1zM310 40h1v3h-1zM310 46h1v3h-1zM310 52h1v3h-1zM310 58h1v3h-1zM310 64h1v3h-1zM310 70h1v3h-1zM310 76h1v3h-1zM310 82h1v3h-1zM310 88h1v3h-1zM310 94h1v3h-1zM310 100h1v3h-1zM310 106h1v3h-1zM310 112h1v3h-1zM310 118h1v3h-1zM310 124h1v3h-1zM310 130h1v3h-1zM310 136h1v3h-1zM310 142h1v3h-1zM310 148h1v3h-1zM310 154h1v3h-1zM310 160h1v3h-1zM310 166h1v3h-1zM310 172h1v3h-1zM310 178h1v3h-1zM310 184h1v3h-1zM310 190h1v3h-1zM310 196h1v3h-1zM310 202h1v3h-1zM310 208h1v3h-1zM310 214h1v3h-1zM310 220h1v3h-1zM310 226h1v3h-1zM310 232h1v3h-1zM310 238h1v3h-1zM310 244h1v3h-1zM310 250h1v3h-1zM310 256h1v3h-1zM310 262h1v3h-1zM310 268h1v3h-1zM310 274h1v3h-1zM310 280h1v3h-1zM310 286h1v3h-1zM310 292h1v3h-1zM310 298h1v3h-1zM310 304h1v3h-1zM310 310h1v3h-1zM310 316h1v3h-1zM310 322h1v3h-1zM310 328h1v3h-1zM310 334h1v3h-1zM310 340h1v3h-1zM310 346h1v3h-1zM310 352h1v3h-1zM310 358h1v3h-1zM310 364h1v3h-1zM310 370h1v3h-1zM310 376h1v3h-1zM310 382h1v3h-1zM310 388h1v3h-1zM310 394h1v3h-1zM310 400h1v3h-1zM310 406h1v3h-1zM310 412h1v3h-1zM310 418h1v3h-1zM310 424h1v3h-1zM310 430h1v3h-1zM310 436h1v3h-1zM310 442h1v3h-1zM310 448h1v3h-1zM310 454h1v3h-1zM400 40h1v3h-1zM400 46h1v3h-1zM400 52h1v3h-1zM400 58h1v3h-1zM400 64h1v3h-1zM400 70h1v3h-1zM400 76h1v3h-1zM400 82h1v3h-1zM400 88h1v3h-1zM400 94h1v3h-1zM400 100h1v3h-1zM400 106h1v3h-1zM400 112h1v3h-1zM400 118h1v3h-1zM400 124h1v3h-1zM400 130h1v3h-1zM400 136h1v3h-1zM400 142h1v3h-1zM400 148h1v3h-1zM400 154h1v3h-1zM400 160h1v3h-1zM400 166h1v3h-1zM400 172h1v3h-1zM400 178h1v3h-1zM400 184h1v3h-1zM400 190h1v3h-1zM400 196h1v3h-1zM400 202h1v3h-1zM400 208h1v3h-1zM400 214h1v3h-1zM400 220h1v3h-1zM400 226h1v3h-1zM400 232h1v3h-1zM400 238h1v3h-1zM400 244h1v3h-1zM400 250h1v3h-1zM400 256h1v3h-1zM400 262h1v3h-1zM400 268h1v3h-1zM400 274h1v3h-1zM400 280h1v3h-1zM400 286h1v3h-1zM400 292h1v3h-1zM400 298h1v3h-1zM400 304h1v3h-1zM400 310h1v3h-1zM400 316h1v3h-1zM400 322h1v3h-1zM400 328h1v3h-1zM400 334h1v3h-1zM400 340h1v3h-1zM400 346h1v3h-1zM400 352h1v3h-1zM400 358h1v3h-1zM400 364h1v3h-1zM400 370h1v3h-1zM400 376h1v3h-1zM400 382h1v3h-1zM400 388h1v3h-1zM400 394h1v3h-1zM400 400h1v3h-1zM400 406h1v3h-1zM400 412h1v3h-1zM400 418h1v3h-1zM400 424h1v3h-1zM400 430h1v3h-1zM400 436h1v3h-1zM400 442h1v3h-1zM400 448h1v3h-1zM400 454h1v3h-1zM490 40h1v3h-1zM490 46h1v3h-1zM490 52h1v3h-1zM490 58h1v3h-1zM490 64h1v3h-1zM490 70h1v3h-1zM490 76h1v3h-1zM490 82h1v3h-1zM490 88h1v3h-1zM490 94h1v3h-1zM490 100h1v3h-1zM490 106h1v3h-1zM490 112h1v3h-1zM490 118h1v3h-1zM490 124h1v3h-1zM490 130h1v3h-1zM490 136h1v3h-1zM490 142h1v3h-1zM490 148h1v3h-1zM490 154h1v3h-1zM490 160h1v3h-1zM490 166h1v3h-1zM490 172h1v3h-1zM490 178h1v3h-1zM490 184h1v3h-1zM490 190h1v3h-1zM490 196h1v3h-1zM490 202h1v3h-1zM490 208h1v3h-1zM490 214h1v3h-1zM490 220h1v3h-1zM490 226h1v3h-1zM490 232h1v3h-1zM490 238h1v3h-1zM490 244h1v3h-1zM490 250h1v3h-1zM490 256h1v3h-1zM490 262h1v3h-1zM490 268h1v3h-1zM490 274h1v3h-1zM490 280h1v3h-1zM490 286h1v3h-1zM490 292h1v3h-1zM490 298h1v3h-1zM490 304h1v3h-1zM490 310h1v3h-1zM490 316h1v3h-1zM490 322h1v3h-1zM490 328h1v3h-1zM490 334h1v3h-1zM490 340h1v3h-1zM490 346h1v3h-1zM490 352h1v3h-1zM490 358h1v3h-1zM490 364h1v3h-1zM490 370h1v3h-1zM490 376h1v3h-1zM490 382h1v3h-1zM490 388h1v3h-1zM490 394h1v3h-1zM490 400h1v3h-1zM490 406h1v3h-1zM490 412h1v3h-1zM490 418h1v3h-1zM490 424h1v3h-1zM490 430h1v3h-1zM490 436h1v3h-1zM490 442h1v3h-1zM490 448h1v3h-1zM490 454h1v3h-1zM580 40h1v3h-1zM580 46h1v3h-1zM580 52h1v3h-1zM580 58h1v3h-1zM580 64h1v3h-1zM580 70h1v3h-1zM580 76h1v3h-1zM580 82h1v3h-1zM580 88h1v3h-1zM580 94h1v3h-1zM580 100h1v3h-1zM580 106h1v3h-1zM580 112h1v3h-1zM580 118h1v3h-1zM580 124h1v3h-1zM580 130h1v3h-1zM580 136h1v3h-1zM580 142h1v3h-1zM580 148h1v3h-1zM580 154h1v3h-1zM580 160h1v3h-1zM580 166h1v3h-1zM580 172h1v3h-1zM580 178h1v3h-1zM580 184h1v3h-1zM580 190h1v3h-1zM580 196h1v3h-1zM580 202h1v3h-1zM580 208h1v3h-1zM580 214h1v3h-1zM580 220h1v3h-1zM580 226h1v3h-1zM580 232h1v3h-1zM580 238h1v3h-1zM580 244h1v3h-1zM580 250h1v3h-1zM580 256h1v3h-1zM580 262h1v3h-1zM580 268h1v3h-1zM580 274h1v3h-1zM580 280h1v3h-1zM580 286h1v3h-1zM580 292h1v3h-1zM580 298h1v3h-1zM580 304h1v3h-1zM580 310h1v3h-1zM580 316h1v3h-1zM580 322h1v3h-1zM580 328h1v3h-1zM580 334h1v3h-1zM580 340h1v3h-1zM580 346h1v3h-1zM580 352h1v3h-1zM580 358h1v3h-1zM580 364h1v3h-1zM580 370h1v3h-1zM580 376h1v3h-1zM580 382h1v3h-1zM580 388h1v3h-1zM580 394h1v3h-1zM580 400h1v3h-1zM580 406h1v3h-1zM580 412h1v3h-1zM580 418h1v3h-1zM580 424h1v3h-1zM580 430h1v3h-1zM580 436h1v3h-1zM580 442h1v3h-1zM580 448h1v3h-1zM580 454h1v3h-1zM670 40h1v3h-1zM670 46h1v3h-1zM670 52h1v3h-1zM670 58h1v3h-1zM670 64h1v3h-1zM670 70h1v3h-1zM670 76h1v3h-1zM670 82h1v3h-1zM670 88h1v3h-1zM670 94h1v3h-1zM670 100h1v3h-1zM670 106h1v3h-1zM670 112h1v3h-1zM670 118h1v3h-1zM670 124h1v3h-1zM670 130h1v3h-1zM670 136h1v3h-1zM670 142h1v3h-1zM670 148h1v3h-1zM670 154h1v3h-1zM670 160h1v3h-1zM670 166h1v3h-1zM670 172h1v3h-1zM670 178h1v3h-1zM670 184h1v3h-1zM670 190h1v3h-1zM670 196h1v3h-1zM670 202h1v3h-1zM670 208h1v3h-1zM670 214h1v3h-1zM670 220h1v3h-1zM670 226h1v3h-1zM670 232h1v3h-1zM670 238h1v3h-1zM670 244h1v3h-1zM670 250h1v3h-1zM670 256h1v3h-1zM670 262h1v3h-1zM670 268h1v3h-1zM670 274h1v3h-1zM670 280h1v3h-1zM670 286h1v3h-1zM670 292h1v3h-1zM670 298h1v3h-1zM670 304h1v3h-1zM670 310h1v3h-1zM670 316h1v3h-1zM670 322h1v3h-1zM670 328h1v3h-1zM670 334h1v3h-1zM670 340h1v3h-1zM670 346h1v3h-1zM670 352h1v3h-1zM670 358h1v3h-1zM670 364h1v3h-1zM670 370h1v3h-1zM670 376h1v3h-1zM670 382h1v3h-1zM670 388h1v3h-1zM670 394h1v3h-1zM670 400h1v3h-1zM670 406h1v3h-1zM670 412h1v3h-1zM670 418h1v3h-1zM670 424h1v3h-1zM670 430h1v3h-1zM670 436h1v3h-1zM670 442h1v3h-1zM670 448h1v3h-1zM670 454h1v3h-1z" fill="#000" shape-rendering="crispEdges"/>
<polyline points="40.5,341.5 45.5,345.5 50.5,357.5 55.5,380.5 60.5,363.5 65.5,360.5 70.5,389.5 75.5,370.5 80.5,367.5 85.5,380.5 90.5,380.5 95.5,386.5 100.5,371.5 105.5,377.5 110.5,364.5 115.5,361.5 120.5,379.5 125.5,388.5 130.5,369.5 135.5,368.5 140.5,372.5 145.5,388.5 150.5,405.5 155.5,416.5 160.5,433.5 165.5,434.5 170.5,441.5 175.5,433.5 180.5,413.5 185.5,436.5 190.5,427.5 195.5,416.5 200.5,402.5 205.5,386.5 210.5,340.5 215.5,320.5 220.5,290.5 225.5,298.5 230.5,273.5 235.5,250.5 240.5,228.5 245.5,204.5 250.5,197.5 255.5,168.5 260.5,170.5 265.5,198.5 270.5,188.5 275.5,165.5 280.5,164.5 285.5,142.5 290.5,150.5 295.5,130.5 300.5,149.5 305.5,211.5 310.5,217.5 315.5,220.5 320.5,225.5 325.5,231.5 330.5,243.5 335.5,259.5 340.5,252.5 345.5,271.5 350.5,277.5 355.5,280.5 360.5,311.5 365.5,342.5 370.5,302.5 375.5,312.5 380.5,309.5 385.5,317.5 390.5,365.5 395.5,361.5 400.5,343.5 405.5,319.5 410.5,321.5 415.5,315.5 420.5,320.5 425.5,331.5 430.5,367.5 435.5,358.5 440.5,323.5 445.5,312.5 450.5,306.5 455.5,311.5 460.5,327.5 465.5,405.5 470.5,408.5 475.5,382.5 480.5,363.5 485.5,391.5 490.5,384.5 495.5,403.5 500.5,393.5 505.5,360.5 510.5,345.5 515.5,332.5 520.5,363.5 525.5,403.5 530.5,379.5 535.5,358.5 540.5,341.5 545.5,331.5 550.5,339.5 555.5,341.5 560.5,333.5 565.5,329.5 570.5,330.5 575.5,311.5 580.5,283.5 585.5,262.5 590.5,238.5 595.5,214.5 600.5,187.5 605.5,174.5 610.5,162.5 615.5,150.5 620.5,148.5 625.5,146.5 630.5,129.5 635.5,115.5 640.5,111.5 645.5,127.5 650.5,121.5 655.5,121.5 660.5,116.5 665.5,121.5 670.5,127.5 675.5,143.5 680.5,117.5 685.5,125.5 690.5,134.5 695.5,190.5 700.5,179.5 705.5,154.5 710.5,130.5 715.5,120.5 720.5,110.5 725.5,101.5 730.5,93.5 735.5,81.5 740.5,75.5 745.5,70.5 750.5,63.5 755.5,60.5" fill="none" stroke="#0000e6" stroke-width="1" shape-rendering="crispEdges"/>
<path d="M40 40h721v1h-721zM40 40h1v423h-1zM760 40h1v423h-1zM40 460h721v1h-721zM70 461h1v2h-1zM100 461h1v2h-1zM130 461h1v2h-1zM160 461h1v2h-1zM190 461h1v2h-1zM220 461h1v2h-1zM250 461h1v2h-1zM280 461h1v2h-1zM310 461h1v2h-1zM340 461h1v2h-1zM370 461h1v2h-1zM400 461h1v2h-1zM430 461h1v2h-1zM460 461h1v2h-1zM490 461h1v2h-1zM520 461h1v2h-1zM550 461h1v2h-1zM580 461h1v2h-1zM610 461h1v2h-1zM640 461h1v2h-1zM670 461h1v2h-1zM700 461h1v2h-1zM730 461h1v2h-1z" fill="#000" shape-rendering="crispEdges"/>
<text x="36.3" y="72" text-anchor="end">9,5</text>
<text x="36.3" y="103" text-anchor="end">9,0</text>
<text x="36.3" y="133" text-anchor="end">8,5</text>
<text x="36.3" y="164" text-anchor="end">8,0</text>
<text x="36.3" y="194" text-anchor="end">7,5</text>
<text x="36.3" y="225" text-anchor="end">7,0</text>
<text x="36.3" y="256" text-anchor="end">6,5</text>
<text x="36.3" y="286" text-anchor="end">6,0</text>
<text x="36.3" y="317" text-anchor="end">5,5</text>
<text x="36.3" y="348" text-anchor="end">5,0</text>
<text x="36.3" y="378" text-anchor="end">4,5</text>
<text x="36.3" y="409" text-anchor="end">4,0</text>
<text x="36.3" y="440" text-anchor="end">3,5</text>
<text x="37" y="50" text-anchor="end">°C</text>
<text x="40.5" y="479" text-anchor="middle">00:00</text>
<text x="40.6" y="494" text-anchor="middle" letter-spacing="0.25">11.08.16</text>
<text x="130.5" y="479" text-anchor="middle">03:00</text>
<text x="130.6" y="494" text-anchor="middle" letter-spacing="0.25">11.08.16</text>
<text x="220.5" y="479" text-anchor="middle">06:00</text>
<text x="220.6" y="494" text-anchor="middle" letter-spacing="0.25">11.08.16</text>
<text x="310.5" y="479" text-anchor="middle">09:00</text>
<text x="310.6" y="494" text-anchor="middle" letter-spacing="0.25">11.08.16</text>
<text x="400.5" y="479" text-anchor="middle">12:00</text>
<text x="400.6" y="494" text-anchor="middle" letter-spacing="0.25">11.08.16</text>
<text x="490.5" y="479" text-anchor="middle">15:00</text>
<text x="490.6" y="494" text-anchor="middle" letter-spacing="0.25">11.08.16</text>
<text x="580.5" y="479" text-anchor="middle">18:00</text>
<text x="580.6" y="494" text-anchor="middle" letter-spacing="0.25">11.08.16</text>
<text x="670.5" y="479" text-anchor="middle">21:00</text>
<text x="670.6" y="494" text-anchor="middle" letter-spacing="0.25">11.08.16</text>
<text x="760.5" y="479" text-anchor="middle">00:00</text>
<text x="760.6" y="494" text-anchor="middle" letter-spacing="0.25">12.08.16</text>
</svg>
</body></html>
